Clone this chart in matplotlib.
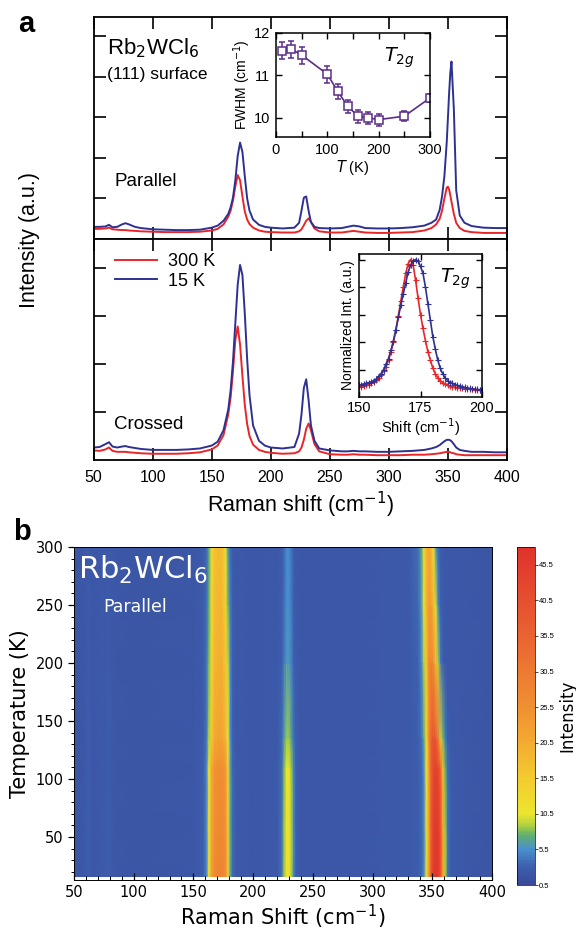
import numpy as np
import matplotlib
matplotlib.use('Agg')
import matplotlib.pyplot as plt
from matplotlib.colors import LinearSegmentedColormap
from matplotlib.ticker import MultipleLocator

plt.rcParams['font.family'] = ['Liberation Sans', 'DejaVu Sans']

# ---------------- panel a: spectra ----------------
spec_shift = [50, 55, 60, 63, 66, 70, 74, 77, 80, 85,
              90, 100, 110, 120, 130, 140, 150, 155, 160, 164,
              166, 168, 170, 172, 174, 176, 178, 180, 182, 185,
              190, 195, 200, 210, 220, 224, 226, 228, 230, 232,
              234, 237, 241, 250, 260, 265, 270, 275, 280, 290,
              300, 310, 320, 330, 336, 340, 343, 345, 347, 349,
              350, 351, 352, 353, 355, 357, 360, 364, 370, 380,
              390, 400]

par_15K = [0.30, 0.30, 0.31, 0.35, 0.29, 0.30, 0.36, 0.39, 0.36, 0.30,
           0.27, 0.24, 0.23, 0.22, 0.22, 0.23, 0.28, 0.33, 0.45, 0.62,
           0.78, 1.02, 1.45, 2.05, 2.38, 2.15, 1.55, 1.00, 0.70, 0.48,
           0.35, 0.30, 0.28, 0.26, 0.28, 0.40, 0.70, 1.02, 1.05, 0.70,
           0.42, 0.30, 0.27, 0.26, 0.27, 0.30, 0.33, 0.31, 0.27, 0.26,
           0.26, 0.27, 0.29, 0.33, 0.40, 0.48, 0.72, 1.05, 1.55, 2.40,
           3.00, 3.60, 4.10, 4.38, 3.20, 1.20, 0.58, 0.40, 0.32, 0.28,
           0.27, 0.27]

par_300K = [0.25, 0.25, 0.26, 0.28, 0.24, 0.23, 0.22, 0.22, 0.21, 0.20,
            0.19, 0.18, 0.17, 0.17, 0.17, 0.18, 0.21, 0.25, 0.36, 0.55,
            0.70, 0.95, 1.30, 1.58, 1.45, 1.05, 0.68, 0.48, 0.37, 0.28,
            0.21, 0.18, 0.17, 0.16, 0.16, 0.19, 0.24, 0.34, 0.45, 0.51,
            0.42, 0.26, 0.19, 0.16, 0.16, 0.18, 0.20, 0.18, 0.16, 0.15,
            0.15, 0.16, 0.17, 0.21, 0.27, 0.36, 0.50, 0.70, 1.00, 1.27,
            1.29, 1.22, 1.08, 0.92, 0.62, 0.40, 0.27, 0.20, 0.17, 0.15,
            0.15, 0.15]

cross_15K = [0.26, 0.27, 0.33, 0.37, 0.28, 0.26, 0.28, 0.29, 0.27, 0.25,
             0.23, 0.21, 0.21, 0.21, 0.22, 0.24, 0.30, 0.38, 0.62, 1.05,
             1.45, 2.05, 2.85, 3.65, 4.06, 3.85, 3.05, 2.10, 1.35, 0.72,
             0.40, 0.30, 0.26, 0.24, 0.27, 0.55, 0.95, 1.50, 1.68, 1.25,
             0.72, 0.40, 0.24, 0.20, 0.18, 0.18, 0.19, 0.18, 0.18, 0.17,
             0.17, 0.18, 0.19, 0.21, 0.24, 0.27, 0.31, 0.35, 0.39, 0.42,
             0.42, 0.42, 0.41, 0.39, 0.33, 0.26, 0.21, 0.19, 0.17, 0.17,
             0.16, 0.16]

cross_300K = [0.20, 0.19, 0.22, 0.26, 0.19, 0.17, 0.17, 0.17, 0.16, 0.15,
              0.14, 0.13, 0.13, 0.13, 0.14, 0.16, 0.22, 0.30, 0.52, 0.95,
              1.30, 1.85, 2.50, 2.78, 2.40, 1.75, 1.15, 0.75, 0.50, 0.32,
              0.21, 0.17, 0.15, 0.13, 0.14, 0.18, 0.26, 0.42, 0.65, 0.76,
              0.62, 0.33, 0.18, 0.12, 0.11, 0.11, 0.12, 0.11, 0.11, 0.10,
              0.10, 0.10, 0.11, 0.11, 0.12, 0.13, 0.14, 0.15, 0.16, 0.17,
              0.17, 0.17, 0.16, 0.15, 0.14, 0.12, 0.11, 0.10, 0.10, 0.10,
              0.10, 0.10]

# FWHM of the T2g mode vs temperature
fwhm_temp = [12, 30, 50, 100, 120, 140, 160, 180, 200, 250, 300]
fwhm_val = [11.58, 11.62, 11.48, 11.03, 10.63, 10.27, 10.04, 10.00, 9.96, 10.04, 10.47]
fwhm_err = [0.20, 0.20, 0.20, 0.20, 0.18, 0.16, 0.15, 0.15, 0.14, 0.12, 0.10]

# normalized T2g line shape
norm_shift = list(range(150, 201))
norm_300K = [0.070, 0.075, 0.080, 0.085, 0.090, 0.100, 0.110, 0.125, 0.140, 0.160,
             0.190, 0.220, 0.270, 0.330, 0.400, 0.490, 0.590, 0.700, 0.800, 0.900,
             0.970, 1.000, 0.960, 0.850, 0.720, 0.600, 0.500, 0.410, 0.330, 0.270,
             0.210, 0.170, 0.140, 0.120, 0.105, 0.095, 0.085, 0.080, 0.075, 0.070,
             0.068, 0.065, 0.062, 0.060, 0.058, 0.056, 0.055, 0.053, 0.052, 0.051,
             0.050]
norm_15K = [0.085, 0.090, 0.095, 0.100, 0.105, 0.110, 0.120, 0.130, 0.150, 0.170,
            0.200, 0.240, 0.280, 0.340, 0.410, 0.490, 0.580, 0.670, 0.750, 0.830,
            0.910, 0.960, 0.990, 1.000, 0.990, 0.950, 0.900, 0.800, 0.680, 0.560,
            0.440, 0.350, 0.270, 0.210, 0.170, 0.140, 0.120, 0.105, 0.100, 0.090,
            0.085, 0.080, 0.075, 0.070, 0.065, 0.062, 0.060, 0.057, 0.055, 0.053,
            0.050]

# ---------------- panel b: intensity map ----------------
heat_shift = [50, 58, 62, 66, 75, 79, 84, 100, 150, 158,
              161, 163, 165, 168, 171, 174, 177, 179, 181, 183,
              186, 200, 220, 224, 226, 228, 230, 232, 234, 236,
              240, 280, 330, 338, 341, 343, 345, 347, 349, 351,
              353, 355, 357, 359, 361, 363, 366, 380, 400]
heat_temp = [16, 60, 110, 135, 200, 250, 300]
heat_int = [
    [2.0, 2.3, 3.0, 2.3, 2.6, 3.0, 2.3, 2.1, 2.2, 2.8,
     5.0, 12, 22, 27, 28, 28, 26, 16, 7.0, 3.5,
     2.6, 2.2, 2.4, 4.0, 8.5, 11.5, 11.5, 9.0, 5.0, 3.0,
     2.3, 2.2, 2.4, 2.8, 3.5, 5.0, 10, 22, 38, 45,
     47, 46, 40, 22, 9.0, 4.0, 2.6, 2.2, 2.0],
    [2.0, 2.3, 3.0, 2.3, 2.6, 3.0, 2.3, 2.1, 2.2, 2.8,
     5.0, 12, 21, 26, 27, 27, 25, 15, 7.0, 3.5,
     2.6, 2.2, 2.4, 4.0, 8.5, 11.5, 11.5, 9.0, 5.0, 3.0,
     2.3, 2.2, 2.4, 2.8, 3.5, 5.0, 10, 21, 37, 44,
     46, 45, 39, 21, 8.5, 4.0, 2.6, 2.2, 2.0],
    [2.0, 2.3, 2.9, 2.3, 2.5, 2.9, 2.3, 2.1, 2.2, 2.8,
     4.8, 11, 20, 25, 26, 26, 24, 14, 6.5, 3.4,
     2.6, 2.2, 2.4, 3.8, 8.0, 10.5, 10.5, 8.5, 4.8, 3.0,
     2.3, 2.2, 2.4, 2.8, 3.6, 5.5, 11, 22, 36, 42,
     44, 42, 35, 18, 7.5, 3.8, 2.6, 2.2, 2.0],
    [2.0, 2.3, 2.8, 2.3, 2.5, 2.8, 2.3, 2.1, 2.2, 2.7,
     4.2, 9.0, 16, 21, 22, 22, 19, 11, 5.5, 3.2,
     2.5, 2.2, 2.4, 3.5, 6.5, 8.5, 8.5, 6.5, 4.0, 2.8,
     2.3, 2.2, 2.4, 3.0, 4.0, 7.0, 13, 25, 36, 40,
     38, 30, 16, 8.0, 4.5, 3.0, 2.5, 2.2, 2.0],
    [2.0, 2.3, 2.7, 2.3, 2.5, 2.7, 2.3, 2.1, 2.2, 2.7,
     4.0, 8.0, 14, 19, 20, 20, 16, 9.5, 5.0, 3.0,
     2.5, 2.2, 2.4, 3.0, 4.5, 6.0, 6.0, 4.8, 3.2, 2.6,
     2.3, 2.2, 2.4, 3.2, 5.0, 9.0, 16, 26, 28, 26,
     18, 9.0, 4.5, 3.0, 2.5, 2.3, 2.2, 2.2, 2.0],
    [2.0, 2.3, 2.7, 2.3, 2.5, 2.7, 2.3, 2.1, 2.2, 2.7,
     3.8, 7.5, 13, 18, 19, 18.5, 14, 8.0, 4.5, 2.9,
     2.5, 2.2, 2.4, 2.9, 4.0, 5.5, 5.5, 4.4, 3.0, 2.5,
     2.3, 2.2, 2.4, 3.5, 6.0, 11, 19, 23, 23, 18,
     10, 5.0, 3.2, 2.6, 2.4, 2.3, 2.2, 2.2, 2.0],
    [2.0, 2.3, 2.7, 2.3, 2.5, 2.7, 2.3, 2.1, 2.2, 2.7,
     3.5, 7.0, 13, 17, 18, 17.5, 12, 6.0, 3.5, 2.6,
     2.4, 2.2, 2.4, 2.9, 3.8, 5.2, 5.2, 4.2, 3.0, 2.5,
     2.3, 2.2, 2.4, 3.8, 7.0, 13, 19, 21, 19, 12,
     6.0, 3.6, 2.8, 2.5, 2.4, 2.3, 2.2, 2.2, 2.0],
]

BLUE = '#2e3192'
RED = '#e8262a'
PURPLE = '#5b2c8a'

W, H = 576, 939


def px_rect(x0, y0, x1, y1):
    # figure-fraction rectangle from pixel corners (top-left origin)
    return [x0 / W, 1 - y1 / H, (x1 - x0) / W, (y1 - y0) / H]


fig = plt.figure(figsize=(W / 100, H / 100), dpi=100)

ax_par = fig.add_axes(px_rect(93.6, 17, 507, 239))
ax_cross = fig.add_axes(px_rect(93.6, 239, 507, 460))

for ax in (ax_par, ax_cross):
    ax.set_xlim(50, 400)
    ax.xaxis.set_major_locator(MultipleLocator(50))
    ax.tick_params(direction='in', length=8.5, width=1.2, top=True, right=True,
                   labelleft=False, labelsize=11.5, pad=7)
    for s in ax.spines.values():
        s.set_linewidth(1.3)

ax_par.plot(spec_shift, par_300K, color=RED, lw=1.4)
ax_par.plot(spec_shift, par_15K, color=BLUE, lw=1.4)
ax_par.set_ylim(0, 5.48)
ax_par.set_yticks([1, 2, 3, 4, 5])
ax_par.tick_params(labelbottom=False)

ax_cross.plot(spec_shift, cross_300K, color=RED, lw=1.4, label='300 K')
ax_cross.plot(spec_shift, cross_15K, color=BLUE, lw=1.4, label='15 K')
ax_cross.set_ylim(0, 4.6)
ax_cross.set_yticks([1, 2, 3, 4])
ax_cross.set_xlabel('Raman shift (cm$^{-1}$)', fontsize=15.5, labelpad=4)
ax_cross.legend(loc='upper left', bbox_to_anchor=(0.035, 0.97), frameon=False,
                fontsize=13, handlelength=2.3, handletextpad=0.6,
                labelspacing=0.15, borderaxespad=0)

ax_par.text(0.033, 0.83, 'Rb$_2$WCl$_6$', transform=ax_par.transAxes, fontsize=16)
ax_par.text(0.033, 0.72, '(111) surface', transform=ax_par.transAxes, fontsize=12.5)
ax_par.text(0.05, 0.24, 'Parallel', transform=ax_par.transAxes, fontsize=13.5)
ax_cross.text(0.05, 0.14, 'Crossed', transform=ax_cross.transAxes, fontsize=13.5)

fig.text(30 / W, 1 - 240 / H, 'Intensity (a.u.)', rotation=90, fontsize=15.5,
         ha='center', va='center')
fig.text(26 / W, 1 - 24 / H, 'a', fontsize=21, fontweight='bold',
         ha='center', va='center')

# inset: FWHM vs T
ax_fw = fig.add_axes(px_rect(276, 33, 430, 137))
ax_fw.errorbar(fwhm_temp, fwhm_val, yerr=fwhm_err, color=PURPLE, marker='s',
               ms=6, mfc='white', mec=PURPLE, mew=1.1, lw=1.2, capsize=2.5,
               elinewidth=1.1)
ax_fw.set_xlim(0, 300)
ax_fw.set_ylim(9.55, 12.0)
ax_fw.set_xticks(range(0, 301, 50))
ax_fw.set_xticklabels(['0', '', '100', '', '200', '', '300'])
ax_fw.set_yticks([10, 11, 12])
ax_fw.tick_params(direction='in', length=4.5, width=1, top=True, right=True,
                  labelsize=10.5, pad=4)
for s in ax_fw.spines.values():
    s.set_linewidth(1.1)
ax_fw.set_xlabel('$T$ (K)', fontsize=10.5, labelpad=1)
ax_fw.set_ylabel('FWHM (cm$^{-1}$)', fontsize=10, labelpad=1)
ax_fw.text(0.7, 0.72, '$T_{2g}$', transform=ax_fw.transAxes, fontsize=14)

# inset: normalized line shape
ax_nm = fig.add_axes(px_rect(359, 254, 482, 397))
ax_nm.plot(norm_shift, norm_300K, color=RED, lw=1.2, marker='+', ms=5, mew=0.8)
ax_nm.plot(norm_shift, norm_15K, color=BLUE, lw=1.2, marker='+', ms=5, mew=0.8)
ax_nm.set_xlim(150, 200)
ax_nm.set_ylim(0, 1.04)
ax_nm.set_xticks([150, 175, 200])
ax_nm.set_yticks([0.2, 0.4, 0.6, 0.8, 1.0])
ax_nm.tick_params(direction='in', length=4.5, width=1, top=True, right=True,
                  labelleft=False, labelsize=10.5, pad=3)
for s in ax_nm.spines.values():
    s.set_linewidth(1.1)
ax_nm.set_xlabel('Shift (cm$^{-1}$)', fontsize=10.5, labelpad=1)
ax_nm.set_ylabel('Normalized Int. (a.u.)', fontsize=10, labelpad=3)
ax_nm.text(0.66, 0.8, '$T_{2g}$', transform=ax_nm.transAxes, fontsize=14)

# ---------------- panel b ----------------
cmap_stops = [(0.5, '#3a4899'), (3.0, '#3d5fae'), (5.5, '#4a90cf'),
              (7.5, '#62b06a'), (9.0, '#b8d43c'), (10.5, '#ece52e'),
              (15.5, '#f3cb2f'), (20.5, '#f3ab31'), (25.5, '#f09032'),
              (35.5, '#ea6331'), (48.0, '#e0322c')]
vmin, vmax = 0.5, 48.0
raman_cmap = LinearSegmentedColormap.from_list(
    'raman', [((v - vmin) / (vmax - vmin), c) for v, c in cmap_stops])

ax_map = fig.add_axes(px_rect(74, 547, 492, 880))
mesh = ax_map.pcolormesh(heat_shift, heat_temp, np.array(heat_int),
                         shading='gouraud', cmap=raman_cmap, vmin=vmin, vmax=vmax)
ax_map.set_xlim(50, 400)
ax_map.set_ylim(13, 300)
ax_map.xaxis.set_major_locator(MultipleLocator(50))
ax_map.xaxis.set_minor_locator(MultipleLocator(10))
ax_map.yaxis.set_major_locator(MultipleLocator(50))
ax_map.yaxis.set_minor_locator(MultipleLocator(10))
ax_map.tick_params(axis='x', which='major', direction='in', length=5, width=0.9)
ax_map.tick_params(axis='x', which='minor', direction='in', length=3, width=0.7)
ax_map.tick_params(axis='y', which='major', direction='out', length=4, width=0.9)
ax_map.tick_params(axis='y', which='minor', direction='out', length=2, width=0.7)
ax_map.tick_params(which='major', labelsize=10.5)
for lab in ax_map.get_xticklabels() + ax_map.get_yticklabels():
    lab.set_family('DejaVu Sans')
for s in ax_map.spines.values():
    s.set_linewidth(0.7)
ax_map.set_xlabel('Raman Shift (cm$^{-1}$)', fontsize=15, family='DejaVu Sans',
                  labelpad=2)
ax_map.set_ylabel('Temperature (K)', fontsize=15, family='DejaVu Sans', labelpad=4)
ax_map.text(0.01, 0.93, 'Rb$_2$WCl$_6$', transform=ax_map.transAxes, color='white',
            fontsize=22, family='DejaVu Sans', va='center')
ax_map.text(0.07, 0.82, 'Parallel', transform=ax_map.transAxes, color='white',
            fontsize=12.5, family='DejaVu Sans', va='center')

cax = fig.add_axes(px_rect(517, 547, 535, 885))
cb = fig.colorbar(mesh, cax=cax)
cb.set_ticks(np.arange(0.5, 46, 5))
cb.set_ticklabels(['%.1f' % v for v in np.arange(0.5, 46, 5)])
cb.ax.tick_params(labelsize=5.5, length=2, width=0.5, pad=1)
cb.outline.set_linewidth(0.5)
cb.set_label('Intensity', fontsize=12, family='DejaVu Sans', labelpad=3)

fig.text(22 / W, 1 - 532 / H, 'b', fontsize=21, fontweight='bold',
         ha='center', va='center')

fig.savefig('out.png', dpi=100)
